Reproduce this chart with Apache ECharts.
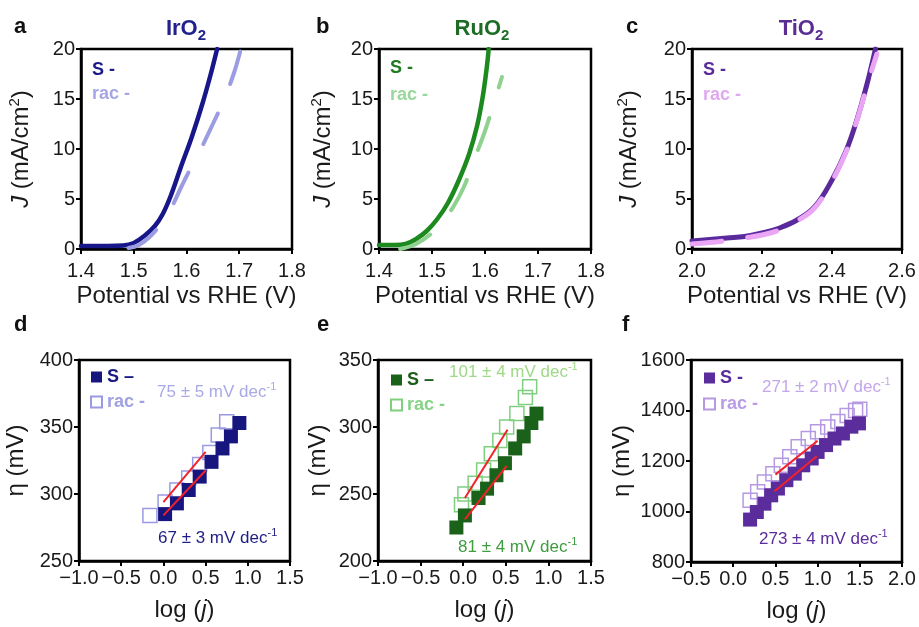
<!DOCTYPE html>
<html>
<head>
<meta charset="utf-8">
<script src="https://cdn.jsdelivr.net/npm/echarts@6/dist/echarts.min.js"></script>
<style>
html, body { margin: 0; padding: 0; background: #fff; }
#chart { width: 919px; height: 627px; }
</style>
</head>
<body>
<div id="chart"></div>
<script>
// polarisation curves (potential V, J mA/cm2)
var irS = [[1.40,0.3],[1.45,0.3],[1.48,0.35],[1.50,0.6],[1.52,1.3],[1.54,2.3],[1.555,3.5],[1.57,5.3],[1.59,8.3],[1.61,11.2],[1.63,14.5],[1.645,17.3],[1.658,20]];
var irRac = [[1.49,0.1],[1.51,0.4],[1.53,1.2],[1.55,2.4],[1.57,4.0],[1.59,6.2],[1.61,8.3],[1.63,10.3],[1.65,12.5],[1.67,14.8],[1.69,17.6],[1.703,20]];
var ruS = [[1.40,0.4],[1.43,0.4],[1.45,0.5],[1.47,1.0],[1.49,1.8],[1.51,3.0],[1.53,4.6],[1.55,6.8],[1.57,9.5],[1.585,12.3],[1.595,15],[1.603,18],[1.607,20]];
var ruRac = [[1.44,0],[1.47,0.5],[1.50,1.6],[1.52,2.8],[1.54,4.2],[1.56,6.2],[1.58,9.0],[1.60,11.8],[1.615,14.3],[1.632,17.2]];
var tiS = [[2.0,0.8],[2.05,0.95],[2.1,1.1],[2.15,1.25],[2.2,1.6],[2.25,2.1],[2.3,2.9],[2.35,4.2],[2.4,6.9],[2.44,9.8],[2.47,12.8],[2.5,16.5],[2.524,20]];
var tiRac = [[2.0,0.5],[2.05,0.65],[2.1,0.85],[2.15,1.1],[2.2,1.4],[2.25,1.9],[2.3,2.8],[2.35,4.1],[2.4,6.8],[2.44,9.7],[2.47,12.7],[2.5,16.3],[2.528,19.5]];

// tafel points (log j, overpotential mV)
var irTafS = [[0.02,285],[0.16,293],[0.30,303],[0.43,313],[0.57,324],[0.70,334],[0.80,343],[0.90,353]];
var irTafRac = [[-0.16,284],[0.02,294],[0.16,303],[0.30,312],[0.43,322],[0.55,331],[0.65,344],[0.75,354]];
var ruTafS = [[-0.08,225],[0.02,234],[0.18,247],[0.28,254],[0.39,264],[0.49,273],[0.61,284],[0.71,293],[0.80,303],[0.86,310]];
var ruTafRac = [[-0.02,242],[0.02,250],[0.14,258],[0.24,268],[0.33,280],[0.43,290],[0.51,300],[0.63,310],[0.73,322],[0.78,330]];
var tiTafS = [[0.20,968],[0.28,998],[0.37,1031],[0.45,1064],[0.53,1091],[0.63,1124],[0.73,1150],[0.83,1183],[0.93,1210],[1.00,1236],[1.10,1263],[1.20,1289],[1.30,1309],[1.40,1336],[1.49,1349]];
var tiTafRac = [[0.20,1045],[0.29,1078],[0.37,1117],[0.47,1150],[0.57,1183],[0.67,1217],[0.77,1256],[0.89,1289],[1.00,1316],[1.12,1335],[1.24,1356],[1.35,1380],[1.45,1400],[1.50,1405]];

// fitted tafel lines
var irFitS = [[0,284],[0.5,317.5]];
var irFitRac = [[0,294],[0.5,331.5]];
var ruFitS = [[0.02,231],[0.51,271]];
var ruFitRac = [[0.02,247],[0.52,298]];
var tiFitS = [[0.49,1080],[0.99,1219]];
var tiFitRac = [[0.5,1146],[1.0,1280]];

var panelLetters = ['a', 'b', 'c', 'd', 'e', 'f'];
var materials = ['IrO', 'RuO', 'TiO'];
var slopes = ['75 ± 5 mV dec', '67 ± 3 mV dec', '101 ± 4 mV dec', '81 ± 4 mV dec', '271 ± 2 mV dec', '273 ± 4 mV dec'];

var FONT = "'Liberation Sans', Arial, sans-serif";
var TXT = '#1a1a1a';

var grids = [
    {left: 81, top: 49, width: 211, height: 200},
    {left: 379, top: 49, width: 212, height: 200},
    {left: 692, top: 49, width: 210, height: 200},
    {left: 79, top: 360, width: 211, height: 201},
    {left: 378, top: 360, width: 213, height: 201},
    {left: 691, top: 360, width: 211, height: 202}
].map(function (g) {
    g.show = true; g.borderColor = '#000'; g.borderWidth = 2.5; g.containLabel = false;
    return g;
});

var fmt1 = function (v) { return (v < 0 ? '\u2212' : '') + Math.abs(v).toFixed(1); };
var fmt0 = function (v) { return String(Math.round(v)); };

function xAxis(i, min, max, step, name, gap, margin) {
    return {
        type: 'value', gridIndex: i, min: min, max: max, interval: step,
        name: name, nameLocation: 'middle', nameGap: gap,
        nameTextStyle: {
            fontSize: 24, color: TXT, fontFamily: FONT, lineHeight: 28,
            rich: {i: {fontSize: 24, fontStyle: 'italic', color: TXT, fontFamily: FONT, lineHeight: 28}}
        },
        axisLine: {onZero: false, lineStyle: {color: '#000', width: 2.5}},
        axisTick: {length: 5, lineStyle: {color: '#000', width: 2}},
        axisLabel: {fontSize: 20, color: TXT, fontFamily: FONT, margin: margin, formatter: fmt1},
        splitLine: {show: false}
    };
}

function yAxis(i, min, max, step, name, gap) {
    return {
        type: 'value', gridIndex: i, min: min, max: max, interval: step,
        name: name, nameLocation: 'middle', nameGap: gap, nameRotate: 90,
        nameTextStyle: {
            fontSize: 24, color: TXT, fontFamily: FONT, lineHeight: 28,
            rich: {
                i: {fontSize: 24, fontStyle: 'italic', color: TXT, fontFamily: FONT, lineHeight: 28},
                p: {fontSize: 15, color: TXT, fontFamily: FONT, lineHeight: 14, verticalAlign: 'top'}
            }
        },
        axisLine: {onZero: false, lineStyle: {color: '#000', width: 2.5}},
        axisTick: {length: 5, lineStyle: {color: '#000', width: 2}},
        axisLabel: {fontSize: 20, color: TXT, fontFamily: FONT, margin: 6, formatter: fmt0},
        splitLine: {show: false}
    };
}

var jName = '{i|J} (mA/cm{p|2})';
var potName = 'Potential vs RHE (V)';
var logName = 'log ({i|j})';
var etaName = '\u03b7 (mV)';

var xAxes = [
    xAxis(0, 1.4, 1.8, 0.1, potName, 28, 12),
    xAxis(1, 1.4, 1.8, 0.1, potName, 28, 12),
    xAxis(2, 2.0, 2.6, 0.2, potName, 28, 12),
    xAxis(3, -1.0, 1.5, 0.5, logName, 35, 7),
    xAxis(4, -1.0, 1.5, 0.5, logName, 35, 7),
    xAxis(5, -0.5, 2.0, 0.5, logName, 35, 7)
];
var yAxes = [
    yAxis(0, 0, 20, 5, jName, 46),
    yAxis(1, 0, 20, 5, jName, 42),
    yAxis(2, 0, 20, 5, jName, 49),
    yAxis(3, 250, 400, 50, etaName, 49),
    yAxis(4, 200, 350, 50, etaName, 46),
    yAxis(5, 800, 1600, 200, etaName, 51)
];

function curve(i, name, data, color, width, dash) {
    return {
        type: 'line', name: name, xAxisIndex: i, yAxisIndex: i, data: data,
        symbol: 'none', smooth: 0.4, clip: true,
        lineStyle: {color: color, width: width, type: dash || 'solid', cap: 'round'},
        itemStyle: {color: color}
    };
}

function squares(i, name, data, color, open) {
    return {
        type: 'scatter', name: name, xAxisIndex: i, yAxisIndex: i, data: data,
        symbol: 'rect', symbolSize: 14,
        itemStyle: open
            ? {color: 'rgba(255,255,255,0)', borderColor: color, borderWidth: 1.5, opacity: 1}
            : {color: color, opacity: 1}
    };
}

function fit(i, data) {
    return {
        type: 'line', xAxisIndex: i, yAxisIndex: i, data: data, symbol: 'none',
        lineStyle: {color: '#f2222a', width: 2}, z: 5
    };
}

var series = [
    curve(0, 'S -|a', irS, '#17178a', 4.5),
    curve(0, 'rac -|a', irRac, '#9c9ce3', 4, [34, 32]),
    curve(1, 'S -|b', ruS, '#1c8a1f', 4.5),
    curve(1, 'rac -|b', ruRac, '#8fd18f', 4, [34, 32]),
    curve(2, 'S -|c', tiS, '#5a2a9c', 5),
    curve(2, 'rac -|c', tiRac, '#eaa6f4', 5, [30, 26]),
    squares(3, 'rac -|d', irTafRac, '#9a9ae2', true),
    squares(3, 'S \u2013|d', irTafS, '#16167e', false),
    fit(3, irFitS), fit(3, irFitRac),
    squares(4, 'rac -|e', ruTafRac, '#7fcf7f', true),
    squares(4, 'S \u2013|e', ruTafS, '#1a621a', false),
    fit(4, ruFitS), fit(4, ruFitRac),
    squares(5, 'rac -|f', tiTafRac, '#b59ae3', true),
    squares(5, 'S -|f', tiTafS, '#5b2c9b', false),
    fit(5, tiFitS), fit(5, tiFitRac)
];

function legend(left, top, gap, names, colors, withIcon) {
    return {
        orient: 'vertical', left: left, top: top, padding: 0, itemGap: gap,
        itemWidth: withIcon ? 11 : 0, itemHeight: withIcon ? 11 : 0,
        icon: withIcon ? 'rect' : 'none',
        selectedMode: false,
        formatter: function (n) { return n.split('|')[0]; },
        textStyle: {fontSize: 18, fontWeight: 'bold', fontFamily: FONT, lineHeight: 20},
        data: names.map(function (n, k) {
            return {name: n, textStyle: {color: colors[k], fontSize: 18, fontWeight: 'bold', fontFamily: FONT}};
        })
    };
}

var legends = [
    legend(87, 60, 4, ['S -|a', 'rac -|a'], ['#1a1a8a', '#a6a6e6'], false),
    legend(385, 58, 7, ['S -|b', 'rac -|b'], ['#1f7a22', '#9ad79a'], false),
    legend(698, 60, 5, ['S -|c', 'rac -|c'], ['#5a2a9c', '#e0a8f0'], false),
    legend(90, 367, 5, ['S \u2013|d', 'rac -|d'], ['#1a1a80', '#a0a0e3'], true),
    legend(390, 370, 5, ['S \u2013|e', 'rac -|e'], ['#1a5e1a', '#86d386'], true),
    legend(703, 368, 6, ['S -|f', 'rac -|f'], ['#5b2c9b', '#b89ce6'], true)
];

var letterPos = [[14, 13], [316, 13], [626, 13], [14, 311], [317, 311], [622, 311]];
var titlePos = [[186, '#22228c'], [482, '#1e6b26'], [801, '#5a2d92']];
var slopePos = [[157, 381, '#a9a9e6'], [158, 527, '#1e1e86'], [449, 361, '#9fd886'], [458, 536, '#3f9c3f'], [762, 376, '#c4a6ea'], [759, 528, '#5b2c9b']];

var titles = [];
panelLetters.forEach(function (l, k) {
    titles.push({
        text: l, left: letterPos[k][0], top: letterPos[k][1], padding: 0,
        textStyle: {fontSize: 22, fontWeight: 'bold', color: '#111', fontFamily: FONT, lineHeight: 28}
    });
});
materials.forEach(function (m, k) {
    var c = titlePos[k][1];
    titles.push({
        text: '{m|' + m + '}{s|2}', left: titlePos[k][0], top: 15, padding: 0, textAlign: 'center',
        textStyle: {
            rich: {
                m: {fontSize: 22, fontWeight: 'bold', color: c, fontFamily: FONT, lineHeight: 28},
                s: {fontSize: 15, fontWeight: 'bold', color: c, fontFamily: FONT, lineHeight: 14, verticalAlign: 'bottom'}
            }
        }
    });
});
slopes.forEach(function (s, k) {
    var c = slopePos[k][2];
    titles.push({
        text: '{t|' + s + '}{p|-1}', left: slopePos[k][0], top: slopePos[k][1], padding: 0,
        textStyle: {
            fontWeight: 'normal',
            rich: {
                t: {fontSize: 17, fontWeight: 'normal', color: c, fontFamily: FONT, lineHeight: 22},
                p: {fontSize: 11, fontWeight: 'normal', color: c, fontFamily: FONT, lineHeight: 12, verticalAlign: 'top'}
            }
        }
    });
});

var myChart = echarts.init(document.getElementById('chart'));
myChart.setOption({
    animation: false,
    backgroundColor: '#fff',
    title: titles,
    legend: legends,
    grid: grids,
    xAxis: xAxes,
    yAxis: yAxes,
    series: series
});
</script>
</body>
</html>
